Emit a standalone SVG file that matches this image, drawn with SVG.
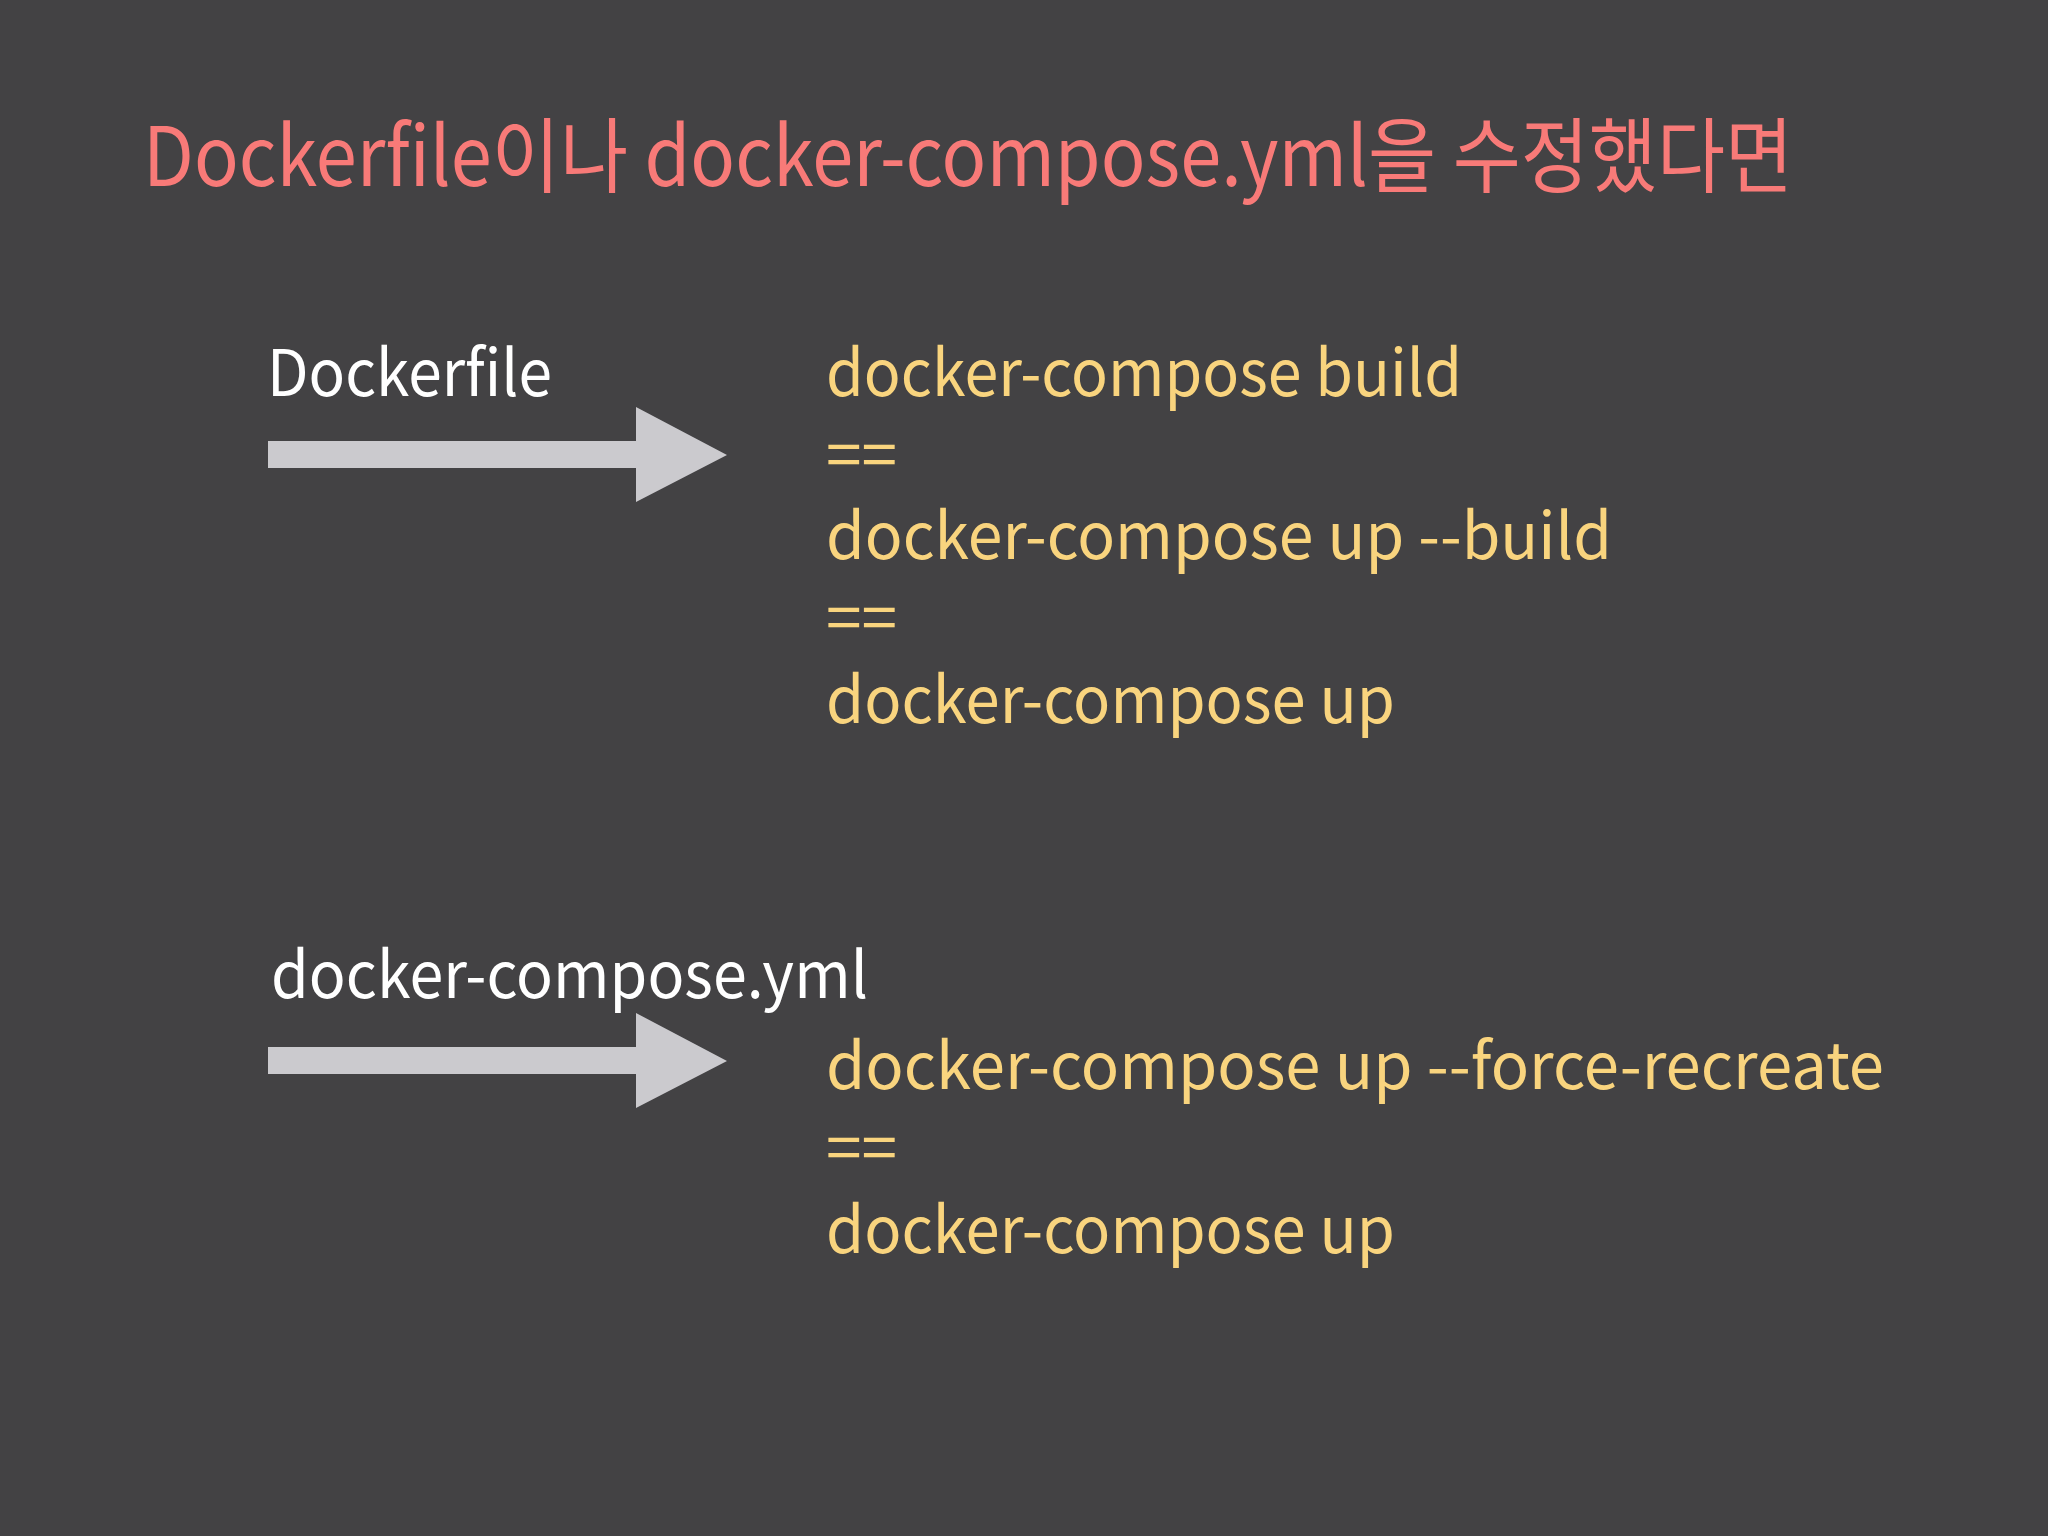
<svg xmlns="http://www.w3.org/2000/svg" width="2048" height="1536" viewBox="0 0 2048 1536">
<style>
text{font-family:"Noto Sans CJK KR","Noto Sans",sans-serif;}
.title{fill:#F87A78;font-size:82px;}
.src{fill:#FFFFFF;font-size:64px;}
.cmd{fill:#F9D47E;font-size:64px;}
.arrow{fill:#CBCACE;}
</style>
<rect width="2048" height="1536" fill="#434244"/>
<text id="title" class="title" x="143" y="186" textLength="1650" lengthAdjust="spacingAndGlyphs">Dockerfile이나 docker-compose.yml을 수정했다면</text>
<g id="dockerfile"><text class="src" x="267" y="396" textLength="285" lengthAdjust="spacingAndGlyphs">Dockerfile</text></g>
<g id="cmds1">
<text class="cmd" x="826" y="396" textLength="636" lengthAdjust="spacingAndGlyphs">docker-compose build</text>
<text class="cmd" x="826" y="478">==</text>
<text class="cmd" x="826" y="559" textLength="786" lengthAdjust="spacingAndGlyphs">docker-compose up --build</text>
<text class="cmd" x="826" y="641">==</text>
<text class="cmd" x="826" y="723" textLength="569" lengthAdjust="spacingAndGlyphs">docker-compose up</text>
</g>
<g id="composeyml"><text class="src" x="271" y="998" textLength="597" lengthAdjust="spacingAndGlyphs">docker-compose.yml</text></g>
<g id="cmds2">
<text class="cmd" x="826" y="1089" textLength="1058" lengthAdjust="spacingAndGlyphs">docker-compose up --force-recreate</text>
<text class="cmd" x="826" y="1171">==</text>
<text class="cmd" x="826" y="1253" textLength="569" lengthAdjust="spacingAndGlyphs">docker-compose up</text>
</g>
<g id="connectors">
<polygon class="arrow" points="268,441 636,441 636,407 727,455 636,502 636,468 268,468"/>
<polygon class="arrow" points="268,1047 636,1047 636,1013 727,1061 636,1108 636,1074 268,1074"/>
</g>
</svg>
